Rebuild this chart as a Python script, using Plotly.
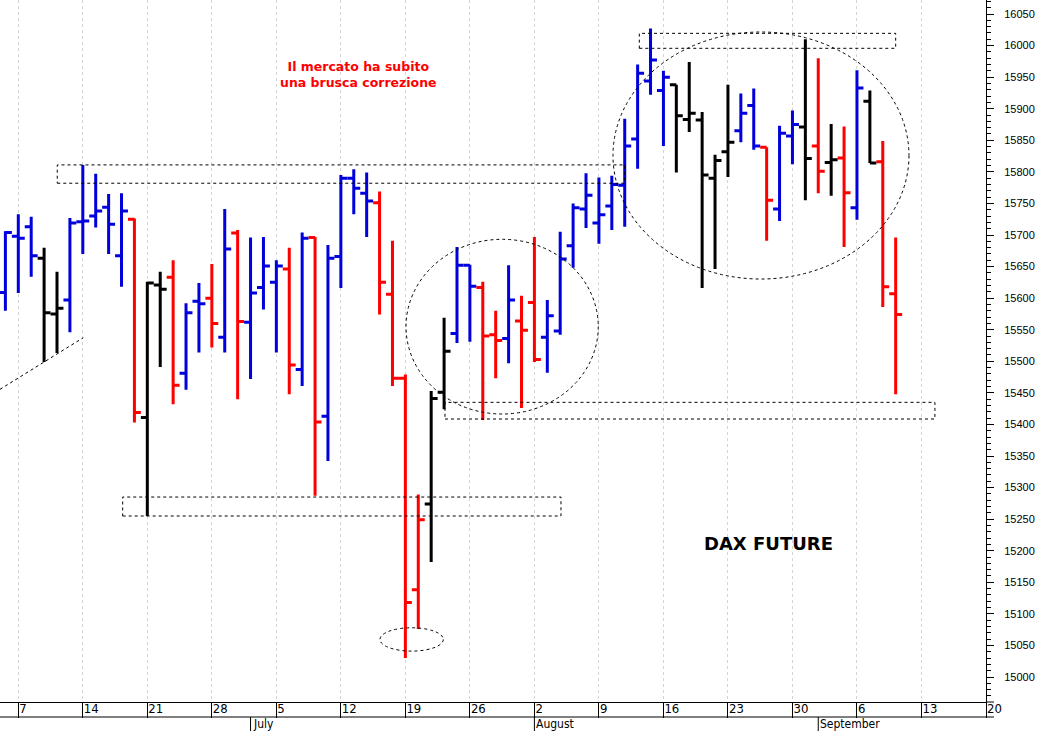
import numpy as np
import plotly.graph_objects as go

# ---------------- data (DAX future, daily bars) ----------------
dates = [
    "2021-06-04",
    "2021-06-07", "2021-06-08", "2021-06-09", "2021-06-10", "2021-06-11",
    "2021-06-14", "2021-06-15", "2021-06-16", "2021-06-17", "2021-06-18",
    "2021-06-21", "2021-06-22", "2021-06-23", "2021-06-24", "2021-06-25",
    "2021-06-28", "2021-06-29", "2021-06-30", "2021-07-01", "2021-07-02",
    "2021-07-05", "2021-07-06", "2021-07-07", "2021-07-08", "2021-07-09",
    "2021-07-12", "2021-07-13", "2021-07-14", "2021-07-15", "2021-07-16",
    "2021-07-19", "2021-07-20", "2021-07-21", "2021-07-22", "2021-07-23",
    "2021-07-26", "2021-07-27", "2021-07-28", "2021-07-29", "2021-07-30",
    "2021-08-02", "2021-08-03", "2021-08-04", "2021-08-05", "2021-08-06",
    "2021-08-09", "2021-08-10", "2021-08-11", "2021-08-12", "2021-08-13",
    "2021-08-16", "2021-08-17", "2021-08-18", "2021-08-19", "2021-08-20",
    "2021-08-23", "2021-08-24", "2021-08-25", "2021-08-26", "2021-08-27",
    "2021-08-30", "2021-08-31", "2021-09-01", "2021-09-02", "2021-09-03",
    "2021-09-06", "2021-09-07", "2021-09-08", "2021-09-09",
]
opens = [
    15609,
    15698, 15713, 15663, 15575, 15597,
    15721, 15730, 15744, 15667, 15725,
    15411, 15621, 15633, 15481, 15595,
    15600, 15538, 15703, 15562, 15617,
    15625, 15646, 15487, 15696, 15413,
    15666, 15790, 15766, 15751, 15606,
    15473, 15138, 15274, 15451, 15544,
    15652, 15617, 15542, 15536, 15564,
    15593, 15538, 15548, 15683, 15741,
    15719, 15746, 15779, 15852, 15944,
    15929, 15938, 15883, 15882, 15790,
    15832, 15865, 15905, 15839, 15741,
    15857, 15871, 15841, 15815, 15822,
    15743, 15912, 15816, 15607,
]
highs = [
    15706,
    15733, 15729, 15680, 15642, 15727,
    15811, 15797, 15765, 15766, 15726,
    15626, 15642, 15660, 15592, 15624,
    15654, 15741, 15708, 15696, 15697,
    15660, 15680, 15704, 15697, 15684,
    15795, 15804, 15799, 15769, 15691,
    15479, 15289, 15453, 15569, 15681,
    15653, 15626, 15580, 15652, 15604,
    15697, 15597, 15705, 15750, 15798,
    15791, 15794, 15884, 15970, 16027,
    15960, 15938, 15974, 15895, 15827,
    15938, 15924, 15932, 15839, 15873,
    15897, 16010, 15980, 15876, 15872,
    15961, 15929, 15849, 15696,
]
lows = [
    15580,
    15608, 15634, 15499, 15513, 15546,
    15670, 15712, 15670, 15618, 15403,
    15255, 15491, 15432, 15455, 15514,
    15522, 15514, 15440, 15472, 15582,
    15514, 15448, 15461, 15287, 15342,
    15616, 15733, 15697, 15574, 15461,
    15030, 15076, 15182, 15424, 15529,
    15531, 15407, 15473, 15497, 15426,
    15499, 15482, 15542, 15648, 15711,
    15686, 15708, 15713, 15805, 15922,
    15841, 15799, 15863, 15616, 15646,
    15792, 15847, 15835, 15691, 15722,
    15812, 15755, 15766, 15762, 15681,
    15724, 15814, 15586, 15448,
]
closes = [
    15704,
    15695, 15667, 15577, 15584, 15719,
    15722, 15738, 15717, 15738, 15419,
    15624, 15614, 15462, 15577, 15591,
    15560, 15678, 15563, 15608, 15651,
    15651, 15494, 15695, 15404, 15663,
    15790, 15774, 15754, 15625, 15473,
    15118, 15249, 15441, 15516, 15652,
    15619, 15540, 15533, 15597, 15549,
    15503, 15572, 15662, 15743, 15763,
    15732, 15780, 15841, 15956, 15977,
    15950, 15889, 15893, 15795, 15818,
    15847, 15893, 15841, 15755, 15861,
    15875, 15821, 15801, 15819, 15767,
    15933, 15814, 15618, 15574,
]
# bar colouring used by the charting software (bullish / bearish / neutral)
bar_class = [
    "up",
    "up", "up", "flat", "flat", "up",
    "up", "up", "up", "up", "down",
    "flat", "flat", "down", "up", "up",
    "down", "up", "down", "up", "up",
    "up", "down", "up", "down", "up",
    "up", "up", "up", "down", "down",
    "down", "down", "flat", "flat", "up",
    "up", "down", "down", "up", "down",
    "down", "up", "up", "up", "up",
    "up", "up", "up", "up", "up",
    "up", "flat", "flat", "flat", "flat",
    "flat", "up", "up", "down", "up",
    "up", "flat", "down", "flat", "down",
    "up", "flat", "down", "down",
]

tick_dates = [
    "2021-06-07", "2021-06-14", "2021-06-21", "2021-06-28", "2021-07-05",
    "2021-07-12", "2021-07-19", "2021-07-26", "2021-08-02", "2021-08-09",
    "2021-08-16", "2021-08-23", "2021-08-30", "2021-09-06", "2021-09-13",
    "2021-09-20",
]
tick_labels = [str(int(d[-2:])) for d in tick_dates]
month_starts = ["2021-07-01", "2021-08-02", "2021-09-01"]
month_names = ["July", "August", "September"]

y_ticks = list(range(15000, 16051, 50))

# ---------------- helpers ----------------
ORIGIN = "2021-06-07"


def tpos(d):
    """trading-day position (weekdays only, as in the original chart)"""
    return int(np.busday_count(ORIGIN, d))


x_all = [tpos(d) for d in dates]

COLORS = {"up": "#0000DC", "down": "#FF0000", "flat": "#000000"}

fig = go.Figure()
for cls, col in COLORS.items():
    idx = [k for k, c in enumerate(bar_class) if c == cls]
    fig.add_trace(go.Ohlc(
        x=[x_all[k] for k in idx],
        open=[opens[k] for k in idx],
        high=[highs[k] for k in idx],
        low=[lows[k] for k in idx],
        close=[closes[k] for k in idx],
        increasing=dict(line=dict(color=col, width=3)),
        decreasing=dict(line=dict(color=col, width=3)),
        tickwidth=0.5,
        hoverinfo="skip",
        showlegend=False,
    ))

DASH = "3px,3px"
shape_line = dict(color="black", width=1, dash=DASH)
shapes = []
# dashed boxes
for x0, x1, y0, y1 in [
    (48.13, 68.0, 15995.7, 16019.4),
    (3.02, 47.0, 15782.0, 15811.0),
    (8.09, 42.06, 15255.0, 15285.0),
    (33.07, 71.04, 15408.6, 15435.0),
]:
    shapes.append(dict(type="rect", xref="x", yref="y", x0=x0, x1=x1, y0=y0, y1=y1,
                       line=shape_line, fillcolor="rgba(0,0,0,0)"))
# dashed ellipses
for x0, x1, y0, y1 in [
    (28.03, 32.94, 15041.0, 15078.0),
    (30.05, 44.95, 15416.5, 15693.2),
    (46.09, 69.03, 15630.3, 16021.5),
]:
    shapes.append(dict(type="circle", xref="x", yref="y", x0=x0, x1=x1, y0=y0, y1=y1,
                       line=shape_line, fillcolor="rgba(0,0,0,0)"))
# trend line bottom-left
shapes.append(dict(type="line", xref="x", yref="y", x0=-1.418, y0=15455.6, x1=5.04, y1=15537.4,
                   line=shape_line))

# bottom date strip: separator line and month dividers
PLOT_H = 702.0


def py(px):
    return (PLOT_H - px) / PLOT_H


shapes.append(dict(type="line", xref="paper", yref="paper", x0=0, x1=1.0081, y0=py(717), y1=py(717),
                   line=dict(color="black", width=1)))
shapes.append(dict(type="line", xref="paper", yref="paper", x0=1.0, x1=1.0081, y0=0, y1=0,
                   line=dict(color="black", width=1)))
for d in month_starts:
    shapes.append(dict(type="line", xref="x", yref="paper", x0=tpos(d), x1=tpos(d),
                       y0=py(717), y1=py(731), line=dict(color="black", width=1)))

NARROW = "Liberation Sans Narrow, DejaVu Sans Condensed, Arial Narrow, sans-serif"
annotations = []
for d, name in zip(month_starts, month_names):
    annotations.append(dict(x=tpos(d), y=py(724), xref="x", yref="paper", text=name,
                            showarrow=False, xanchor="left", yanchor="middle", xshift=0,
                            font=dict(family=NARROW, size=12, color="black")))
annotations.append(dict(x=26.33, y=15955, xref="x", yref="y",
                        text="<b>Il mercato ha subito<br>una brusca correzione</b>",
                        showarrow=False, xanchor="center", yanchor="middle",
                        font=dict(family="DejaVu Sans, Verdana, sans-serif", size=12.5, color="#FF0000")))
annotations.append(dict(x=58.18, y=15212, xref="x", yref="y", text="<b>DAX FUTURE</b>",
                        showarrow=False, xanchor="center", yanchor="middle",
                        font=dict(family="DejaVu Sans, Verdana, sans-serif", size=18, color="black")))

fig.update_layout(
    width=1042, height=731,
    margin=dict(l=0, r=56, t=0, b=29, pad=0),
    paper_bgcolor="white", plot_bgcolor="white",
    showlegend=False,
    shapes=shapes,
    annotations=annotations,
    xaxis=dict(
        range=[-1.418, 75],
        tickmode="array",
        tickvals=[tpos(d) for d in tick_dates],
        ticktext=tick_labels,
        ticks="outside", ticklen=15, tickwidth=1, tickcolor="black",
        ticklabelposition="outside right",
        ticklabelstandoff=-6,
        tickfont=dict(family=NARROW, size=13, color="black"),
        showline=True, linecolor="black", linewidth=1,
        showgrid=True, gridcolor="#d4d4d4", griddash=DASH, gridwidth=1,
        zeroline=False,
        rangeslider=dict(visible=False),
        fixedrange=True,
    ),
    yaxis=dict(
        side="right",
        range=[14960.4, 16072.2],
        tickmode="array",
        tickvals=y_ticks,
        tickformat="d",
        ticks="outside", ticklen=7, tickwidth=1, tickcolor="black",
        ticklabelstandoff=8,
        tickfont=dict(family="Liberation Sans, Arial, sans-serif", size=11, color="black"),
        minor=dict(tick0=15000, dtick=10, ticks="outside", ticklen=4, tickcolor="black",
                   tickwidth=1, showgrid=False),
        showline=True, linecolor="black", linewidth=1,
        showgrid=False, zeroline=False,
        fixedrange=True,
    ),
)

fig.write_html("out.html", config={"displayModeBar": False},
               post_script="document.body.style.margin='0px';")
